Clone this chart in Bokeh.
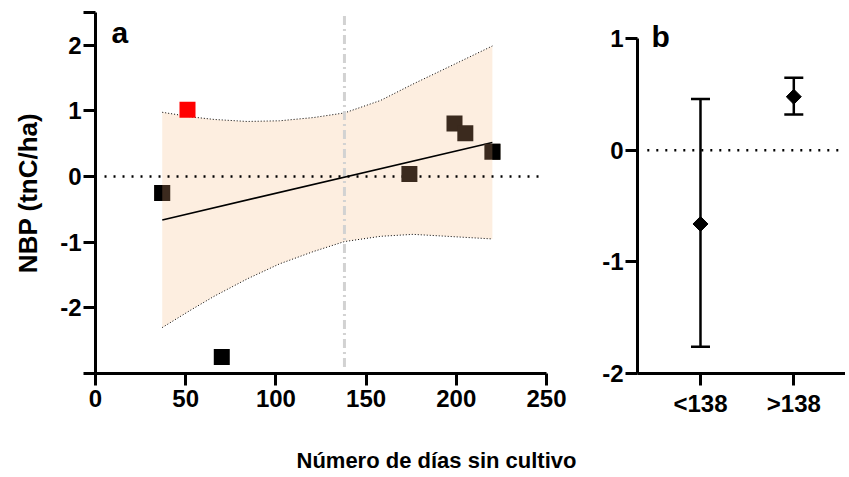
import math
from bokeh.plotting import figure
from bokeh.layouts import row
from bokeh.models import FixedTicker, Label, Whisker, ColumnDataSource, Range1d, TeeHead, Title
from bokeh.embed import file_html
from bokeh.resources import INLINE

FONT = "Liberation Sans"

# ---------------- Panel a data ----------------
brown_x = [37, 174, 199, 205, 220]
brown_y = [-0.25, 0.04, 0.81, 0.66, 0.38]
black_x = [70]
black_y = [-2.75]
red_x = [51]
red_y = [1.02]
# squares that are half black (left one: black on left half; right one: black on right half)
half_left_x = [37]
half_left_y = [-0.25]
half_right_x = [220]
half_right_y = [0.38]

fit_x = [37, 220]
fit_y = [-0.66, 0.52]

band_x = [37, 53, 66, 84, 102, 121, 138, 158, 176, 195, 220]
band_upper = [0.98, 0.91, 0.87, 0.84, 0.85, 0.90, 0.97, 1.16, 1.41, 1.66, 1.99]
band_lower = [-2.30, -2.03, -1.82, -1.56, -1.33, -1.14, -0.99, -0.91, -0.88, -0.91, -0.95]

cutoff_day = 138
zero_line_a = [5, 247]

x_ticks_a = [0, 50, 100, 150, 200, 250]
y_ticks_a = [-3, -2, -1, 0, 1, 2, 2.5]

# ---------------- Panel b data ----------------
groups = ["<138", ">138"]
group_pos = [1, 2]
group_mean = [-0.66, 0.48]
group_upper = [0.46, 0.65]
group_lower = [-1.76, 0.32]
y_ticks_b = [-2, -1, 0, 1]

BROWN = "#3b2a1e"
BAND = "#fdeee0"
TICK_FS = "24px"


def style_axes(p):
    for ax in (p.xaxis[0], p.yaxis[0]):
        ax.axis_line_width = 3
        ax.axis_line_color = "black"
        ax.major_tick_line_width = 3
        ax.major_tick_line_color = "black"
        ax.major_tick_out = 12
        ax.major_tick_in = 0
        ax.minor_tick_out = 0
        ax.minor_tick_in = 0
        ax.major_label_text_font = FONT
        ax.major_label_text_font_style = "bold"
        ax.major_label_text_font_size = TICK_FS
        ax.major_label_text_color = "black"
        ax.axis_label_text_color = "black"
    p.xaxis[0].major_label_standoff = 4
    p.yaxis[0].major_label_standoff = 2
    p.xgrid.visible = False
    p.ygrid.visible = False
    p.outline_line_color = None
    p.background_fill_color = "white"
    p.border_fill_color = "white"


# ================= Panel a =================
FW1, FH1 = 451, 361
p1 = figure(frame_width=FW1, frame_height=FH1, output_backend="svg", toolbar_location=None,
            x_range=Range1d(0, 250), y_range=Range1d(-3, 2.5),
            min_border_left=95, min_border_right=44, min_border_top=12, min_border_bottom=103)
style_axes(p1)
p1.xaxis[0].ticker = FixedTicker(ticks=x_ticks_a)
p1.yaxis[0].ticker = FixedTicker(ticks=y_ticks_a)
p1.yaxis[0].major_label_overrides = {-3: "", -2: "-2", -1: "-1", 0: "0", 1: "1", 2: "2", 2.5: ""}
p1.yaxis[0].axis_label = "NBP (tnC/ha)"
p1.yaxis[0].axis_label_text_font = FONT
p1.yaxis[0].axis_label_text_font_style = "bold"
p1.yaxis[0].axis_label_text_font_size = "26px"
p1.yaxis[0].axis_label_standoff = 14
# blank spacer label on the x axis pushes the shared x title down
p1.xaxis[0].axis_label = "\u00a0"
p1.xaxis[0].axis_label_standoff = 0
p1.xaxis[0].axis_label_text_font_size = "30px"

# confidence band
p1.varea(x=band_x, y1=band_lower, y2=band_upper, fill_color=BAND)
p1.line(band_x, band_upper, line_color="black", line_width=1, line_dash="1 2")
p1.line(band_x, band_lower, line_color="black", line_width=1, line_dash="1 2")

# cutoff vertical line
p1.line([cutoff_day, cutoff_day], [-2.9, 2.5], line_color="#d2d2d2", line_width=3,
        line_dash="9 4 2 4")

# zero line
p1.line(zero_line_a, [0, 0], line_color="black", line_width=2.5, line_dash="2 7")

# regression line
p1.line(fit_x, fit_y, line_color="black", line_width=1.6)

# points
p1.scatter(brown_x, brown_y, marker="square", size=16, fill_color=BROWN, line_color=None)
p1.scatter(black_x, black_y, marker="square", size=16, fill_color="black", line_color=None)
p1.scatter(red_x, red_y, marker="square", size=16, fill_color="#ff0000", line_color=None)
dx = 4 * 250 / FW1  # 4 px in data units
p1.rect([v - dx for v in half_left_x], half_left_y, width=8, height=16,
        width_units="screen", height_units="screen", fill_color="black", line_color=None)
p1.rect([v + dx for v in half_right_x], half_right_y, width=8, height=16,
        width_units="screen", height_units="screen", fill_color="black", line_color=None)

p1.add_layout(Label(x=16, y=341, x_units="screen", y_units="screen", text="a",
                    text_font=FONT, text_font_style="bold", text_font_size="30px",
                    text_color="black", text_baseline="alphabetic", text_align="left"))
p1.add_layout(Title(text="Número de días sin cultivo", align="left", offset=201,
                    standoff=0, text_font=FONT, text_font_style="bold",
                    text_font_size="22px", text_color="black"), "below")

# ================= Panel b =================
FW2, FH2 = 208, 361
p2 = figure(frame_width=FW2, frame_height=FH2, output_backend="svg", toolbar_location=None,
            x_range=Range1d(0.325, 2.554), y_range=Range1d(-2, 1.235),
            min_border_left=47, min_border_right=0, min_border_top=12, min_border_bottom=103)
style_axes(p2)
p2.xaxis[0].ticker = FixedTicker(ticks=group_pos)
p2.xaxis[0].major_label_overrides = {pos: g for pos, g in zip(group_pos, groups)}
p2.yaxis[0].ticker = FixedTicker(ticks=y_ticks_b)
p2.yaxis[0].major_label_overrides = {-2: "-2", -1: "-1", 0: "0", 1: "1"}
p2.yaxis[0].bounds = (-2, 1)

p2.line([0.43, 2.6], [0, 0], line_color="black", line_width=2.5, line_dash="2 7")

src = ColumnDataSource(dict(x=group_pos, m=group_mean, u=group_upper, l=group_lower))
p2.add_layout(Whisker(base="x", upper="u", lower="l", source=src, dimension="height",
                      line_width=2.5, line_color="black",
                      upper_head=TeeHead(size=19, line_width=2.5, line_color="black"),
                      lower_head=TeeHead(size=19, line_width=2.5, line_color="black")))
p2.scatter("x", "m", source=src, marker="square", angle=math.pi / 4, size=10.6,
           fill_color="black", line_color="black", line_width=1)

p2.add_layout(Label(x=14, y=337, x_units="screen", y_units="screen", text="b",
                    text_font=FONT, text_font_style="bold", text_font_size="30px",
                    text_color="black", text_baseline="alphabetic", text_align="left"))

layout = row(p1, p2)
open("out.html", "w").write(file_html(layout, INLINE))
